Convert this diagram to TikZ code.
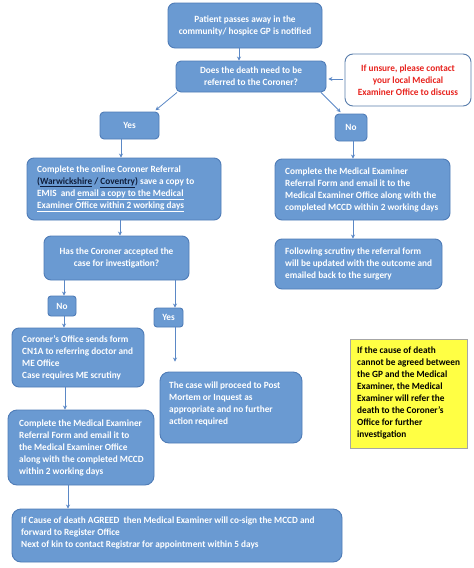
\documentclass[tikz,border=0pt]{standalone}
\usepackage{fontspec}
\setmainfont{Carlito}[FakeStretch=0.975]
\usetikzlibrary{arrows.meta}
\definecolor{bfill}{HTML}{6A9AD2}
\definecolor{bline}{HTML}{4F7CB7}
\definecolor{arrc}{HTML}{5B88C6}
\definecolor{navy}{HTML}{0F1E3C}
\definecolor{redtxt}{HTML}{E8231E}
\definecolor{yel}{HTML}{FFFF44}
\begin{document}
\begin{tikzpicture}[x=1pt,y=-1pt,
  every node/.style={font=\fontsize{9.5}{12}\selectfont\bfseries},
  bbox/.style={draw=bline,fill=bfill,line width=0.9pt,rounded corners=7pt,text=white,inner sep=0pt,align=center},
  txt/.style={anchor=west,inner sep=0pt,align=left,text=white},
  arr/.style={draw=arrc,line width=0.8pt,-{Stealth[length=4pt,width=4pt]}}]
\useasboundingbox (0,0) rectangle (474,568);
\fill[white] (0,0) rectangle (474,568);

\node[bbox,minimum width=154pt,minimum height=45pt] (b1) at (245,25.5) {Patient passes away in the\\community/ hospice GP is notified};
\node[bbox,minimum width=150pt,minimum height=31pt,rounded corners=5pt] (b2) at (251,76.5) {Does the death need to be\\referred to the Coroner?};
\node[draw=bline!80!gray,fill=white,line width=0.9pt,rounded corners=8pt,text=redtxt,align=center,inner sep=0pt,minimum width=126pt,minimum height=52pt] (red) at (408,80) {If unsure, please contact\\your local Medical\\Examiner Office to discuss};
\node[bbox,minimum width=59pt,minimum height=27pt,rounded corners=4pt] (yes1) at (129.5,125.5) {Yes};
\node[bbox,minimum width=32pt,minimum height=27pt,rounded corners=4pt] (no1) at (351,127.5) {No};

\node[bbox,minimum width=194pt,minimum height=62pt] (ref) at (124,189) {};
\node[txt] (reft) at (37,189) {Complete the online Coroner Referral\\{\color{navy}(\underline{Warwickshire} / \underline{Coventry})} save a copy to\\EMIS\ \ and \underline{email a copy to the Medical}\\\underline{Examiner Office within 2 working days}};
\node[bbox,minimum width=175pt,minimum height=61pt] (me1) at (362.5,189.5) {};
\node[txt] (me1t) at (285,190) {Complete the Medical Examiner\\Referral Form and email it to the\\Medical Examiner Office along with the\\completed MCCD within 2 working days};

\node[bbox,minimum width=145pt,minimum height=44pt] (has) at (116.5,258) {Has the Coroner accepted the\\case for investigation?};
\node[bbox,minimum width=167pt,minimum height=50pt] (fol) at (358.5,264) {};
\node[txt] (folt) at (285,264) {Following scrutiny the referral form\\will be updated with the outcome and\\emailed back to the surgery};

\node[bbox,minimum width=28pt,minimum height=20pt,rounded corners=3pt] (no2) at (62,306) {No};
\node[bbox,minimum width=29pt,minimum height=19pt,rounded corners=3pt] (yes2) at (168.5,317.5) {Yes};

\node[bbox,minimum width=132pt,minimum height=59pt] (cor) at (78,357.5) {};
\node[txt] (cort) at (22,358) {Coroner’s Office sends form\\CN1A to referring doctor and\\ME Office\\Case requires ME scrutiny};
\node[bbox,minimum width=142pt,minimum height=71pt,rounded corners=9pt] (post) at (231,407.5) {};
\node[txt] (postt) at (169,404) {The case will proceed to Post\\Mortem or Inquest as\\appropriate and no further\\action required};
\node[draw=gray!70,fill=yel,line width=0.8pt,inner sep=0pt,minimum width=117pt,minimum height=109pt] (yelb) at (408.5,393.5) {};
\node[txt,text=black] (yelt) at (357,392.5) {If the cause of death\\cannot be agreed between\\the GP and the Medical\\Examiner, the Medical\\Examiner will refer the\\death to the Coroner’s\\Office for further\\investigation};

\node[bbox,minimum width=146pt,minimum height=75pt,rounded corners=9pt] (cme) at (81,447.5) {};
\node[txt] (cmet) at (19,448) {Complete the Medical Examiner\\Referral Form and email it to\\the Medical Examiner Office\\along with the completed MCCD\\within 2 working days};
\node[bbox,minimum width=330pt,minimum height=53pt,rounded corners=9pt] (fin) at (177,535.5) {};
\node[txt] (fint) at (21,533) {If Cause of death AGREED\ \ then Medical Examiner will co-sign the MCCD and\\forward to Register Office\\Next of kin to contact Registrar for appointment within 5 days};

\draw[arr] (b1.south -| 239,0) -- (b2.north -| 239,0);
\draw[arr,shorten <=2pt,shorten >=2pt] (red.west |- 0,79) -- (b2.east |- 0,79);
\draw[arr,shorten >=2pt] (b2.south -| 177,0) -- (yes1.north -| 154,0);
\draw[arr,shorten >=2pt] (b2.south -| 321,0) -- (no1.north -| 342,0);
\draw[arr] (yes1.south -| 121,0) -- (ref.north -| 121,0);
\draw[arr] (no1.south -| 353,0) -- (me1.north -| 353,0);
\draw[arr] (ref.south -| 120,0) -- (has.north -| 120,0);
\draw[arr] (me1.south -| 353,0) -- (fol.north -| 353,0);
\draw[arr] (has.south -| 64,0) -- (no2.north -| 64,0);
\draw[arr] (has.south -| 175,0) -- (yes2.north -| 175,0);
\draw[arr] (no2.south -| 64,0) -- (cor.north -| 64,0);
\draw[arr,shorten >=10pt] (yes2.south -| 175,0) -- (post.north -| 175,0);
\draw[arr] (cor.south -| 65,0) -- (cme.north -| 65,0);
\draw[arr] (cme.south -| 68,0) -- (fin.north -| 68,0);
\end{tikzpicture}
\end{document}
